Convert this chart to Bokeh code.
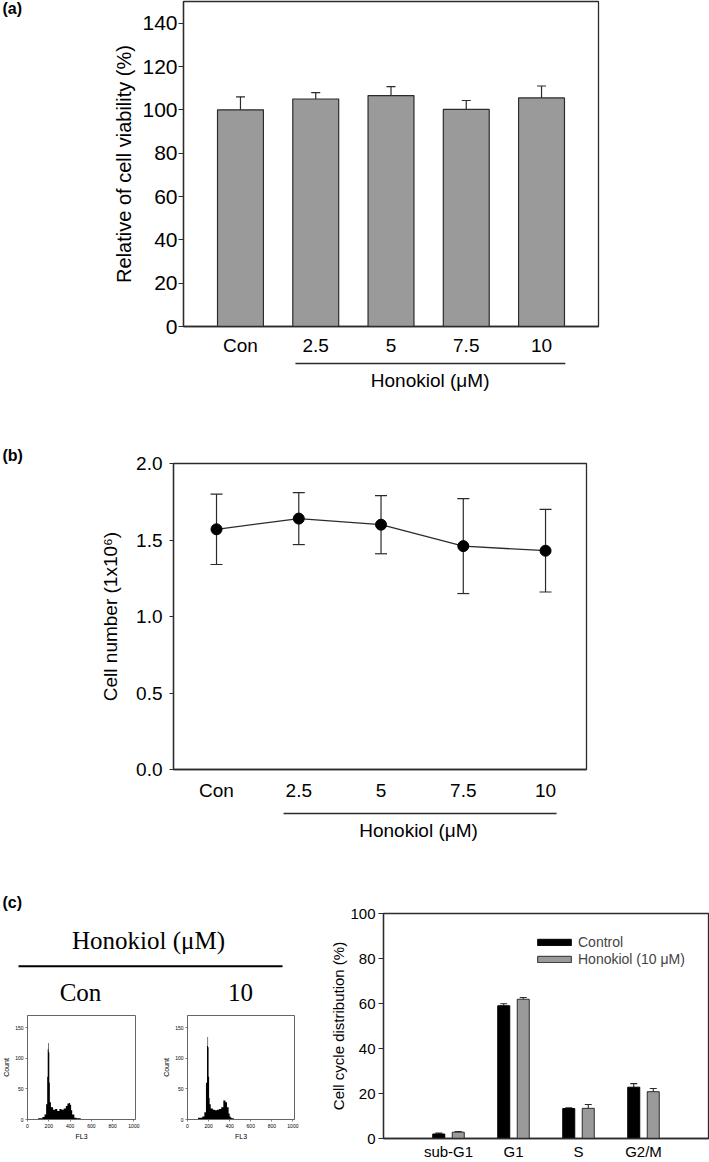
from bokeh.plotting import figure
from bokeh.models import (Range1d, FixedTicker, Label, Whisker, TeeHead,
                          ColumnDataSource, Legend, LegendItem, PrintfTickFormatter)
from bokeh.layouts import column, row
from bokeh.embed import file_html
from bokeh.resources import INLINE

SANS = "Liberation Sans"
SERIF = "Liberation Serif"
INK = "#2b2b2b"

# ---------------- data ----------------
dose_labels = ["Con", "2.5", "5", "7.5", "10"]
viability_mean = [100.0, 105.0, 106.6, 100.2, 105.5]
viability_err = [6.0, 2.9, 4.1, 4.1, 5.5]

cell_number_mean = [1.57, 1.64, 1.60, 1.46, 1.43]
cell_number_err = [0.23, 0.17, 0.19, 0.31, 0.27]

phase_labels = ["sub-G1", "G1", "S", "G2/M"]
control_mean = [2.0, 59.0, 13.3, 22.8]
control_err = [0.4, 0.9, 0.4, 1.6]
honokiol_mean = [2.8, 61.9, 13.4, 20.8]
honokiol_err = [0.3, 0.8, 1.7, 1.4]

fl3_edges = [0, 60, 100, 140, 160, 175, 185, 190, 195, 200, 205, 210, 220, 240, 260,
             280, 300, 320, 340, 360, 375, 390, 400, 410, 420, 440, 460, 500, 600, 700, 1000]
count_con = [0, 1, 2, 4, 8, 25, 70, 115, 125, 110, 60, 28, 20, 16, 17,
             14, 17, 16, 18, 22, 26, 27, 24, 15, 8, 3, 2, 1, 0.5, 0]
count_10 = [0, 1, 3, 5, 12, 60, 120, 135, 118, 70, 35, 25, 18, 16, 15,
            16, 17, 20, 31, 28, 20, 10, 5, 3, 2, 1, 1, 0.5, 0, 0]


def style(p, tick_px, label_px):
    p.background_fill_color = "white"
    p.border_fill_color = "white"
    p.outline_line_color = INK
    p.outline_line_width = 1.3
    p.xgrid.visible = False
    p.ygrid.visible = False
    for ax in p.axis:
        ax.axis_line_color = INK
        ax.axis_line_width = 1.3
        ax.major_tick_line_color = INK
        ax.major_tick_line_width = 1.2
        ax.minor_tick_line_color = None
        ax.major_tick_in = 0
        ax.major_label_text_font = SANS
        ax.major_label_text_font_size = f"{tick_px}px"
        ax.major_label_text_color = "black"
        ax.axis_label_text_font = SANS
        ax.axis_label_text_font_size = f"{label_px}px"
        ax.axis_label_text_font_style = "normal"
        ax.axis_label_text_color = "black"


def blank(width, height, x_range=None):
    """A figure with no axes whose y runs downward in pixels (for texts and rules)."""
    p = figure(width=width, height=height,
               x_range=x_range if x_range is not None else Range1d(0, width),
               y_range=Range1d(height, 0), x_axis_type=None, y_axis_type=None,
               output_backend="svg", toolbar_location=None,
               min_border_left=0, min_border_right=0, min_border_top=0, min_border_bottom=0)
    p.outline_line_color = None
    p.xgrid.visible = False
    p.ygrid.visible = False
    p.background_fill_color = "white"
    p.border_fill_color = "white"
    return p


def add_text(p, x, y, text, size, font=SANS, bold=False, align="center"):
    p.add_layout(Label(x=x, y=y, text=text, text_font=font, text_font_size=f"{size}px",
                       text_font_style="bold" if bold else "normal",
                       text_align=align, text_baseline="middle", text_color="black"))


# ---------------- (a) ----------------
xa = list(range(1, len(dose_labels) + 1))
pa = figure(width=679, height=358, x_range=Range1d(0.243, 5.757), y_range=Range1d(0, 150),
            output_backend="svg", toolbar_location=None,
            min_border_left=153, min_border_right=111, min_border_top=1, min_border_bottom=30)
style(pa, 21, 20)
src_a = ColumnDataSource(dict(x=xa, top=viability_mean,
                              upper=[m + e for m, e in zip(viability_mean, viability_err)]))
pa.vbar(x="x", top="top", bottom=0, width=0.61, source=src_a,
        fill_color="#9a9a9a", line_color=INK, line_width=1.2)
pa.add_layout(Whisker(base="x", lower="top", upper="upper", source=src_a,
                      upper_head=TeeHead(size=9, line_color=INK, line_width=1.2),
                      lower_head=None, line_color=INK, line_width=1.2))
pa.xaxis.ticker = FixedTicker(ticks=xa)
pa.xaxis.major_label_overrides = {x: l for x, l in zip(xa, dose_labels)}
pa.xaxis.major_label_text_font_size = "19px"
pa.xaxis.major_tick_out = 0
pa.xaxis.major_label_standoff = 8
pa.yaxis.ticker = FixedTicker(ticks=[0, 20, 40, 60, 80, 100, 120, 140])
pa.yaxis.major_tick_out = 5
pa.yaxis.major_label_standoff = 1
pa.yaxis.axis_label = "Relative of cell viability (%)"
pa.yaxis.axis_label_standoff = 4

ann_a = blank(679, 50, x_range=pa.x_range)
ann_a.min_border_left = 153
ann_a.min_border_right = 111
ann_a.line(x=[1.73, 5.316], y=[5, 5], line_color=INK, line_width=1.3)
add_text(ann_a, 3.52, 22, "Honokiol (μM)", 19)

let_a = blank(30, 408)
add_text(let_a, 2, 8, "(a)", 16, bold=True, align="left")

# ---------------- (b) ----------------
pb = figure(width=679, height=395, x_range=Range1d(0.477, 5.498), y_range=Range1d(0, 2.0),
            output_backend="svg", toolbar_location=None,
            min_border_left=143, min_border_right=123, min_border_top=55, min_border_bottom=32)
style(pb, 19, 19)
src_b = ColumnDataSource(dict(x=xa, y=cell_number_mean,
                              lo=[m - e for m, e in zip(cell_number_mean, cell_number_err)],
                              hi=[m + e for m, e in zip(cell_number_mean, cell_number_err)]))
pb.add_layout(Whisker(base="x", lower="lo", upper="hi", source=src_b,
                      upper_head=TeeHead(size=12, line_color=INK, line_width=1.2),
                      lower_head=TeeHead(size=12, line_color=INK, line_width=1.2),
                      line_color=INK, line_width=1.2))
pb.line(x="x", y="y", source=src_b, line_color=INK, line_width=1.3)
pb.scatter(x="x", y="y", source=src_b, size=11, fill_color="black", line_color="black")
pb.xaxis.ticker = FixedTicker(ticks=xa)
pb.xaxis.major_label_overrides = {x: l for x, l in zip(xa, dose_labels)}
pb.xaxis.major_tick_out = 0
pb.xaxis.major_label_standoff = 10
pb.yaxis.ticker = FixedTicker(ticks=[0, 0.5, 1.0, 1.5, 2.0])
pb.yaxis.formatter = PrintfTickFormatter(format="%.1f")
pb.yaxis.major_tick_out = 4
pb.yaxis.major_label_standoff = 7
pb.yaxis.axis_label = "Cell number (1x10⁶)"
pb.yaxis.axis_label_standoff = 12

ann_b = blank(679, 45, x_range=pb.x_range)
ann_b.min_border_left = 143
ann_b.min_border_right = 123
ann_b.line(x=[1.815, 5.134], y=[10, 10], line_color=INK, line_width=1.3)
add_text(ann_b, 3.456, 27, "Honokiol (μM)", 19)

let_b = blank(30, 440)
add_text(let_b, 2, 47, "(b)", 16, bold=True, align="left")

# ---------------- (c) header ----------------
ph = blank(310, 164)
add_text(ph, 2, 54, "(c)", 16, bold=True, align="left")
add_text(ph, 148, 92, "Honokiol (μM)", 25, font=SERIF)
ph.line(x=[18, 282], y=[117.7, 117.7], line_color="black", line_width=2)
add_text(ph, 80, 144, "Con", 25, font=SERIF)
add_text(ph, 240, 144, "10", 25, font=SERIF)


def hist_fig(counts, width, left, right):
    p = figure(width=width, height=150, x_range=Range1d(0, 1015), y_range=Range1d(0, 170),
               output_backend="svg", toolbar_location=None,
               min_border_left=left, min_border_right=right, min_border_top=3, min_border_bottom=43)
    style(p, 5, 7)
    p.outline_line_color = "#666666"
    p.outline_line_width = 1
    p.varea_step(x=fl3_edges, y1=[0] * len(fl3_edges), y2=list(counts) + [0],
                 step_mode="after", fill_color="black")
    for ax in p.axis:
        ax.axis_line_color = "#666666"
        ax.axis_line_width = 1
        ax.major_tick_line_color = "#666666"
        ax.major_tick_line_width = 0.8
        ax.major_tick_out = 2
        ax.major_label_standoff = 2
        ax.axis_label_standoff = 2
    p.xaxis.ticker = FixedTicker(ticks=[0, 200, 400, 600, 800, 1000])
    p.yaxis.ticker = FixedTicker(ticks=[0, 50, 100, 150])
    p.xaxis.axis_label = "FL3"
    p.yaxis.axis_label = "Count"
    return p


h1 = hist_fig(count_con, 160, 24, 25)
h2 = hist_fig(count_10, 150, 23, 16)

# ---------------- (c) bar chart ----------------
xc = list(range(1, len(phase_labels) + 1))
pc = figure(width=399, height=314, x_range=Range1d(0, 5), y_range=Range1d(0, 100),
            output_backend="svg", toolbar_location=None,
            min_border_left=73, min_border_right=1, min_border_top=65, min_border_bottom=24)
style(pc, 15, 15)
src_c1 = ColumnDataSource(dict(x=[v - 0.15 for v in xc], top=control_mean,
                               upper=[m + e for m, e in zip(control_mean, control_err)]))
src_c2 = ColumnDataSource(dict(x=[v + 0.15 for v in xc], top=honokiol_mean,
                               upper=[m + e for m, e in zip(honokiol_mean, honokiol_err)]))
r1 = pc.vbar(x="x", top="top", bottom=0, width=0.185, source=src_c1,
             fill_color="black", line_color="black", line_width=1)
r2 = pc.vbar(x="x", top="top", bottom=0, width=0.185, source=src_c2,
             fill_color="#9a9a9a", line_color=INK, line_width=1)
for s in (src_c1, src_c2):
    pc.add_layout(Whisker(base="x", lower="top", upper="upper", source=s,
                          upper_head=TeeHead(size=7, line_color=INK, line_width=1.1),
                          lower_head=None, line_color=INK, line_width=1.1))
pc.xaxis.ticker = FixedTicker(ticks=xc)
pc.xaxis.major_label_overrides = {x: l for x, l in zip(xc, phase_labels)}
pc.xaxis.major_tick_out = 0
pc.xaxis.major_label_standoff = 4
pc.yaxis.ticker = FixedTicker(ticks=[0, 20, 40, 60, 80, 100])
pc.yaxis.major_tick_out = 5
pc.yaxis.major_label_standoff = 3
pc.yaxis.axis_label = "Cell cycle distribution (%)"
pc.yaxis.axis_label_standoff = 0
legend = Legend(items=[LegendItem(label="Control", renderers=[r1]),
                       LegendItem(label="Honokiol (10 μM)", renderers=[r2])],
                location=(150, 171), padding=0, margin=0, spacing=1,
                glyph_width=42, glyph_height=8, label_height=14, label_standoff=3,
                border_line_color=None, background_fill_alpha=0,
                label_text_font=SANS, label_text_font_size="14px")
pc.add_layout(legend)

layout = column(row(let_a, column(pa, ann_a)),
                row(let_b, column(pb, ann_b)),
                row(column(ph, row(h1, h2)), pc))
open("out.html", "w").write(file_html(layout, INLINE))
